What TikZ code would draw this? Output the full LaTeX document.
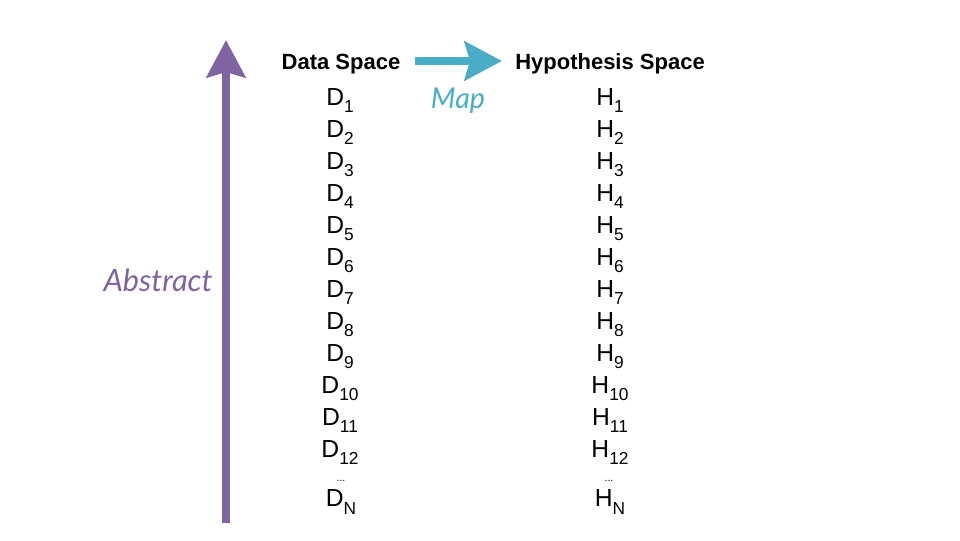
\documentclass[tikz,border=0pt]{standalone}
\usepackage{fontspec}
\setmainfont{Liberation Sans}
\newfontfamily\handfont{Lato}
\usepackage{xcolor}
\usepackage{tikz}
\usetikzlibrary{positioning,arrows.meta}
\definecolor{mapteal}{HTML}{4BACC6}
\definecolor{abspurple}{HTML}{8064A2}
\newcommand{\lowidx}[1]{\raisebox{-0.55ex}{\fontsize{13}{13}\selectfont #1}}

\begin{document}
\begin{tikzpicture}[x=0.75pt, y=-0.75pt, every node/.style={font=\fontsize{18.5}{18.5}\selectfont, inner sep=0pt},
    head/.style={font=\fontsize{16.5}{16.5}\selectfont\bfseries},
    hand/.style={font=\fontsize{21.5}{21.5}\selectfont\handfont\itshape},
    fat arrow/.style={line width=6pt, -{Stealth[width=29pt,length=28pt,inset=4pt]}}]
   \useasboundingbox (0,0) rectangle (960,540);
    % Column headings
    \node[head] (dataspace) at (341,64) {Data Space};
    \node[head] (hypspace) at (610,64) {Hypothesis Space};
    % Data and hypotheses, one row each
    \foreach \i in {1,...,12}{
        \node (d\i) at (340,{68.5+32*\i}) {D\lowidx{\i}};
        \node (h\i) at (610,{68.5+32*\i}) {H\lowidx{\i}};
    }
    \node[font=\fontsize{8}{8}\selectfont] (ddots) at (341,481) {...};
    \node[font=\fontsize{8}{8}\selectfont] (hdots) at (609,481) {...};
    \node (dN) at (341,502) {D\lowidx{N}};
    \node (hN) at (610,502) {H\lowidx{N}};

    % Map arrow
    \coordinate (mapstart) at (415,61);
    \coordinate (mapend) at (502,61);
    \draw[fat arrow, mapteal] (mapstart) -- (mapend);
    \node[hand, mapteal] (maplabel) at (458,101) {Map};

    % Abstraction arrow
    \coordinate (absstart) at (226,523);
    \coordinate (absend) at (226,40);
    \draw[fat arrow, abspurple] (absstart) -- (absend);
    \node[hand, abspurple, font=\fontsize{23}{23}\selectfont\handfont\itshape] (abslabel) at (158,280) {Abstract};
\end{tikzpicture}
\end{document}
